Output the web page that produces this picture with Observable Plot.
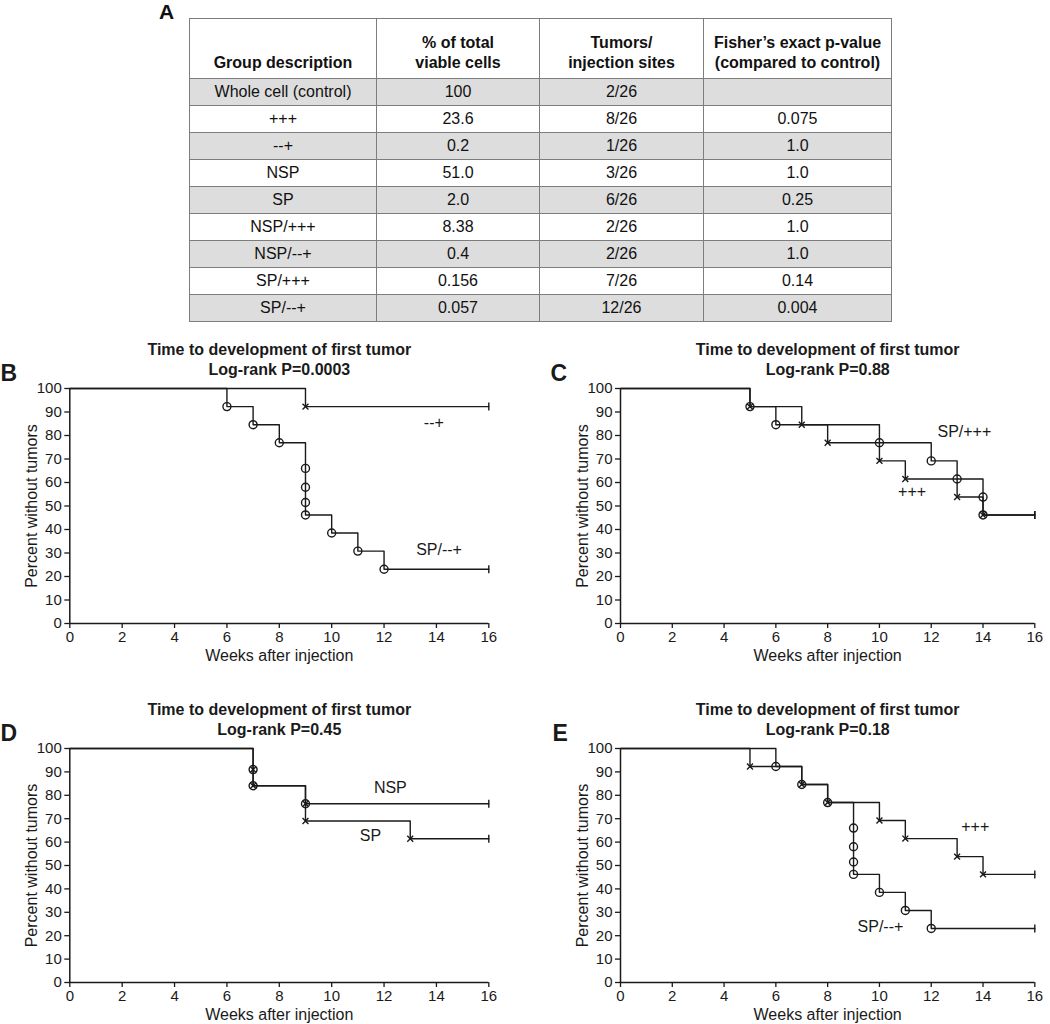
<!DOCTYPE html>
<html>
<head>
<meta charset="utf-8">
<script src="https://cdn.jsdelivr.net/npm/d3@7"></script>
<script src="https://cdn.jsdelivr.net/npm/@observablehq/plot@0.6"></script>
<style>
  body { margin: 0; background: #fff; }
  #fig { position: relative; width: 1050px; height: 1024px; font-family: "Liberation Sans", Arial, sans-serif; color: #111; overflow: hidden; }
  .panel { position: absolute; }
  #letterA { position: absolute; left: 159px; top: 0px; font-size: 21px; font-weight: bold; line-height: 24px; }
  #tbl { position: absolute; left: 189px; top: 18px; width: 702px; border-collapse: collapse; table-layout: fixed; font-size: 16px; }
  #tbl td, #tbl th { border: 1.5px solid #7d7d7d; text-align: center; padding: 0; }
  #tbl th { font-weight: bold; height: 54px; vertical-align: bottom; padding-bottom: 5px; line-height: 20px; }
  #tbl td { height: 26px; vertical-align: middle; line-height: 18px; }
  #tbl tr.shade td { background: #dddddd; }
</style>
</head>
<body>
<div id="fig">
  <div id="letterA">A</div>
  <table id="tbl"></table>
</div>
<script>
// ---------- Table data (panel A) ----------
const tableHeaders = ["Group description", "% of total\nviable cells", "Tumors/\ninjection sites", "Fisher’s exact p-value\n(compared to control)"];
const groupNames = ["Whole cell (control)", "+++", "--+", "NSP", "SP", "NSP/+++", "NSP/--+", "SP/+++", "SP/--+"];
const pctViable = ["100", "23.6", "0.2", "51.0", "2.0", "8.38", "0.4", "0.156", "0.057"];
const tumorsSites = ["2/26", "8/26", "1/26", "3/26", "6/26", "2/26", "2/26", "7/26", "12/26"];
const fisherP = ["", "0.075", "1.0", "1.0", "0.25", "1.0", "1.0", "0.14", "0.004"];

// ---------- Kaplan–Meier curves (weeks, percent without tumors) ----------
const minusWeeks   = [0, 9, 16];
const minusPct     = [100, 92.3, 92.3];
const spMinusWeeks = [0, 6, 7, 8, 9, 9, 9, 9, 10, 11, 12, 16];
const spMinusPct   = [100, 92.3, 84.6, 76.9, 66, 58, 51.5, 46.2, 38.5, 30.8, 23.1, 23.1];
const plusWeeks    = [0, 5, 7, 8, 10, 11, 13, 14, 16];
const plusPct      = [100, 92.3, 84.6, 76.9, 69.2, 61.5, 53.8, 46.2, 46.2];
const spPlusWeeks  = [0, 5, 6, 10, 12, 13, 14, 14, 16];
const spPlusPct    = [100, 92.3, 84.6, 76.9, 69.2, 61.5, 53.8, 46.2, 46.2];
const nspWeeks     = [0, 7, 7, 9, 16];
const nspPct       = [100, 91, 84.1, 76.4, 76.4];
const spWeeks      = [0, 7, 7, 9, 9, 13, 16];
const spPct        = [100, 91, 84.1, 76.4, 69, 61.4, 61.4];

const xTicks = [0, 2, 4, 6, 8, 10, 12, 14, 16];
const yTicks = [0, 10, 20, 30, 40, 50, 60, 70, 80, 90, 100];
const titleLine1 = "Time to development of first tumor";
const xTitle = "Weeks after injection";
const yTitle = "Percent without tumors";

// ---------- build table ----------
const tbl = document.getElementById("tbl");
const colWidths = [187, 163, 164, 188];
const cg = document.createElement("colgroup");
colWidths.forEach(w => { const c = document.createElement("col"); c.style.width = w + "px"; cg.appendChild(c); });
tbl.appendChild(cg);
const hr = document.createElement("tr");
tableHeaders.forEach(h => {
  const th = document.createElement("th");
  h.split("\n").forEach((line, i) => { if (i) th.appendChild(document.createElement("br")); th.appendChild(document.createTextNode(line)); });
  hr.appendChild(th);
});
tbl.appendChild(hr);
groupNames.forEach((g, i) => {
  const tr = document.createElement("tr");
  if (i % 2 === 0) tr.className = "shade";
  [g, pctViable[i], tumorsSites[i], fisherP[i]].forEach(v => {
    const td = document.createElement("td"); td.textContent = v; tr.appendChild(td);
  });
  tbl.appendChild(tr);
});

// ---------- KM panels ----------
const ink = "#1a1a1a";
const rows = (w, p) => w.map((wk, i) => ({week: wk, pct: p[i]}));
const censorSymbol = {
  draw(context, size) {
    const r = Math.sqrt(size / Math.PI);
    context.moveTo(0, -r);
    context.lineTo(0, r);
  }
};

function panel(cfg) {
  const marks = [
    Plot.ruleY([0], {stroke: ink, strokeWidth: 1.5}),
    Plot.ruleX([0], {stroke: ink, strokeWidth: 1.5}),
    Plot.axisX({ticks: xTicks, tickSize: 5, tickPadding: 3, label: null, fontSize: 15, strokeWidth: 1.3}),
    Plot.axisY({ticks: yTicks, tickSize: 5, tickPadding: 3, label: null, fontSize: 15, strokeWidth: 1.3})
  ];
  cfg.curves.forEach(c => {
    const data = rows(c.weeks, c.pct);
    marks.push(Plot.line(data, {x: "week", y: "pct", curve: "step-after", stroke: ink, strokeWidth: 1.4}));
  });
  cfg.curves.forEach(c => {
    const data = rows(c.weeks, c.pct);
    const events = data.slice(1, -1);
    if (c.marker === "circle") {
      marks.push(Plot.dot(events, {x: "week", y: "pct", symbol: "circle", r: 4, fill: "none", stroke: ink, strokeWidth: 1.4}));
    } else {
      marks.push(Plot.dot(events, {x: "week", y: "pct", symbol: "times", r: 2.8, stroke: ink, strokeWidth: 1.4}));
    }
    marks.push(Plot.dot(data.slice(-1), {x: "week", y: "pct", symbol: censorSymbol, r: 4, stroke: ink, strokeWidth: 1.4}));
  });
  marks.push(Plot.text(cfg.labels, {x: "week", y: "pct", text: "text", fontSize: 16, fill: ink}));
  marks.push(Plot.text([titleLine1], {frameAnchor: "top", lineAnchor: "middle", textAnchor: "middle", dy: -38.5, fontSize: 16, fontWeight: "bold", fill: ink}));
  marks.push(Plot.text([cfg.subtitle], {frameAnchor: "top", lineAnchor: "middle", textAnchor: "middle", dy: -19, fontSize: 16, fontWeight: "bold", fill: ink}));
  marks.push(Plot.text([xTitle], {frameAnchor: "bottom", lineAnchor: "middle", textAnchor: "middle", dy: 32, fontSize: 16, fill: ink}));
  marks.push(Plot.text([yTitle], {frameAnchor: "left", lineAnchor: "middle", textAnchor: "middle", dx: -37.5, rotate: -90, fontSize: 16, fill: ink}));
  marks.push(Plot.text([cfg.letter], {frameAnchor: "top-left", lineAnchor: "middle", textAnchor: "start", dx: cfg.letterDx, dy: -15, fontSize: 23, fontWeight: "bold", fill: ink}));

  const svg = Plot.plot({
    width: cfg.width, height: cfg.height,
    marginLeft: cfg.ml, marginRight: cfg.mr, marginTop: cfg.mt, marginBottom: cfg.mb,
    x: {domain: [0, 16]},
    y: {domain: [0, 100]},
    style: {fontFamily: "'Liberation Sans', Arial, sans-serif", fontSize: "15px", color: ink, background: "transparent", overflow: "visible"},
    marks
  });
  const div = document.createElement("div");
  div.className = "panel";
  div.style.left = cfg.left + "px";
  div.style.top = cfg.top + "px";
  div.style.width = cfg.width + "px";
  div.appendChild(svg);
  document.getElementById("fig").appendChild(div);
}

panel({
  letter: "B", subtitle: "Log-rank P=0.0003", letterDx: -69.3,
  left: 0, top: 330, width: 520, height: 340, ml: 69.3, mr: 31.7, mt: 58, mb: 47,
  curves: [
    {weeks: minusWeeks, pct: minusPct, marker: "times"},
    {weeks: spMinusWeeks, pct: spMinusPct, marker: "circle"}
  ],
  labels: [{text: "--+", week: 13.9, pct: 85.4}, {text: "SP/--+", week: 14.1, pct: 31.2}]
});
panel({
  letter: "C", subtitle: "Log-rank P=0.88", letterDx: -70,
  left: 520, top: 330, width: 530, height: 340, ml: 100, mr: 15.7, mt: 58, mb: 47,
  curves: [
    {weeks: plusWeeks, pct: plusPct, marker: "times"},
    {weeks: spPlusWeeks, pct: spPlusPct, marker: "circle"}
  ],
  labels: [{text: "SP/+++", week: 13.28, pct: 81.6}, {text: "+++", week: 11.26, pct: 56}]
});
panel({
  letter: "D", subtitle: "Log-rank P=0.45", letterDx: -69.3,
  left: 0, top: 670, width: 520, height: 354, ml: 69.3, mr: 31.7, mt: 78, mb: 42,
  curves: [
    {weeks: spWeeks, pct: spPct, marker: "times"},
    {weeks: nspWeeks, pct: nspPct, marker: "circle"}
  ],
  labels: [{text: "NSP", week: 12.24, pct: 83}, {text: "SP", week: 11.48, pct: 62.5}]
});
panel({
  letter: "E", subtitle: "Log-rank P=0.18", letterDx: -68,
  left: 520, top: 670, width: 530, height: 354, ml: 100, mr: 15.7, mt: 78, mb: 42,
  curves: [
    {weeks: plusWeeks, pct: plusPct, marker: "times"},
    {weeks: spMinusWeeks, pct: spMinusPct, marker: "circle"}
  ],
  labels: [{text: "+++", week: 13.7, pct: 66.3}, {text: "SP/--+", week: 10.04, pct: 23.7}]
});
</script>
</body>
</html>
